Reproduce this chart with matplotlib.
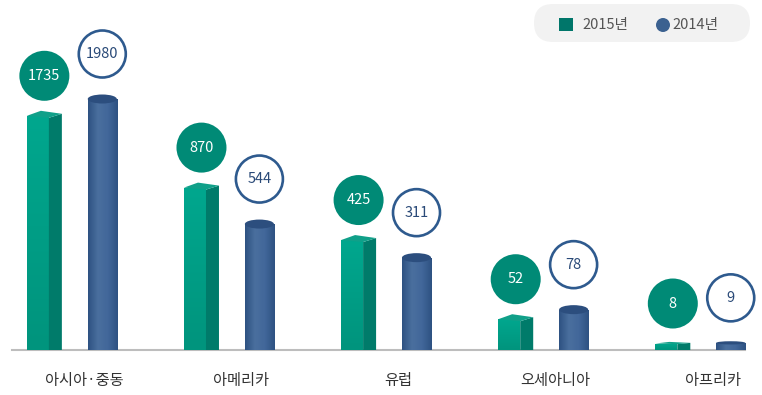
import numpy as np
import matplotlib
matplotlib.use('Agg')
import matplotlib.pyplot as plt
from matplotlib.patches import Polygon, Rectangle, Ellipse, FancyBboxPatch, Circle
from matplotlib.colors import LinearSegmentedColormap

plt.rcParams['font.family'] = ['Noto Sans CJK KR', 'DejaVu Sans']

# ---------------- data ----------------
regions = ['아시아·중동', '아메리카', '유럽', '오세아니아', '아프리카']
values_2015 = [1735, 870, 425, 52, 8]
values_2014 = [1980, 544, 311, 78, 9]
legend_labels = ['2015년', '2014년']

# ---------------- colours ----------------
GREEN_TOP = '#00A78E'
GREEN_BOT = '#00947D'
GREEN_SIDE = '#007B6A'
GREEN_LID = '#10A089'
GREEN_CIRCLE = '#008A76'
GREEN_LEG = '#00766A'
BLUE_EDGE = '#2E5282'
BLUE_MID = '#4A6F9E'
BLUE_LID = '#2C4E7E'
BLUE_RING = '#2E5A8E'
BLUE_TEXT = '#2A4A78'
BLUE_LEG = '#3B6190'

W, H = 762, 395
fig = plt.figure(figsize=(W / 100, H / 100), dpi=100)
base_px = 350
top_px = 50
ax = fig.add_axes([0, (H - base_px) / H, 1, (base_px - top_px) / H])


def fwd(v):
    v = np.clip(np.asarray(v, dtype=float), 0, None)
    return np.sqrt(v) - 2 * (1 - np.exp(-v / 4))


_grid = np.linspace(0, 20000, 200001)
_fgrid = fwd(_grid)


def inv(t):
    return np.interp(np.asarray(t, dtype=float), _fgrid, _grid)


ax.set_yscale('function', functions=(fwd, inv))
ymax = float(inv(fwd(max(values_2014)) * (base_px - top_px) / 251.0))
ax.set_ylim(0, ymax)
ax.set_xlim(-0.436, 4.414)

x = np.arange(len(regions))
off_g, wg = -0.195, 0.14
off_b, wb = 0.215, 0.185

ax.bar(x + off_g, values_2015, width=wg, color=GREEN_BOT, zorder=2)
ax.bar(x + off_b, values_2014, width=wb, color=BLUE_EDGE, zorder=2)

for s in ax.spines.values():
    s.set_visible(False)
ax.yaxis.set_visible(False)
ax.set_xticks(x + 0.1, regions)
ax.tick_params(axis='x', length=0, pad=16, labelsize=11, labelcolor='#333333')
ax.axhline(0, xmin=12 / W, xmax=745 / W, color='#BDBDBD', lw=1.5, clip_on=False, zorder=1)

# ---------------- pixel overlay for 3D decoration ----------------
pax = fig.add_axes([0, 0, 1, 1], zorder=3)
pax.patch.set_alpha(0)
pax.axis('off')


def to_px(xx, vv):
    d = ax.transData.transform((xx, vv))
    return d[0], H - d[1]


_, y0 = to_px(0, 0)
cm_green = LinearSegmentedColormap.from_list('g', [GREEN_TOP, GREEN_BOT])
cm_blue = LinearSegmentedColormap.from_list('b', [BLUE_EDGE, BLUE_MID, '#42679A', BLUE_EDGE])
vgrad = np.linspace(0, 1, 64).reshape(-1, 1)
hgrad = np.linspace(0, 1, 64).reshape(1, -1)

side_w = 13
for i, v in enumerate(values_2015):
    xl, yt = to_px(x[i] + off_g - wg / 2, v)
    xm, _ = to_px(x[i] + off_g + wg / 2, v)
    xr = xm + side_w
    hpx = y0 - yt
    rect = Rectangle((xl, yt), xm - xl, hpx, transform=pax.transData, facecolor='none', edgecolor='none')
    pax.add_patch(rect)
    im = pax.imshow(vgrad, extent=(xl, xm, y0, yt), cmap=cm_green, aspect='auto',
                    interpolation='bilinear', origin='upper', zorder=2)
    im.set_clip_path(rect)
    lift = min(1.0, hpx / 20.0)
    pax.add_patch(Polygon([(xm, y0), (xm, yt + 2 * lift), (xr, yt - 2 * lift), (xr, y0)], closed=True,
                          facecolor=GREEN_SIDE, edgecolor='none', zorder=3))
    pax.add_patch(Polygon([(xl, yt), (xm, yt + 2 * lift), (xr, yt - 2 * lift), (xl + 14, yt - 5 * lift)],
                          closed=True, facecolor=GREEN_LID, edgecolor='none', zorder=4))
    cx = (xl + xr) / 2
    cy = yt - 40
    pax.add_patch(Circle((cx, cy), 25, facecolor=GREEN_CIRCLE, edgecolor='none', zorder=5))
    pax.text(cx, cy, str(v), ha='center', va='center', color='white', fontsize=10.5, zorder=6)

for i, v in enumerate(values_2014):
    xl, yt = to_px(x[i] + off_b - wb / 2, v)
    xr, _ = to_px(x[i] + off_b + wb / 2, v)
    hpx = y0 - yt
    rect = Rectangle((xl, yt), xr - xl, hpx, transform=pax.transData, facecolor='none', edgecolor='none')
    pax.add_patch(rect)
    im = pax.imshow(hgrad, extent=(xl, xr, y0, yt), cmap=cm_blue, aspect='auto',
                    interpolation='bilinear', origin='upper', zorder=2)
    im.set_clip_path(rect)
    eh = 9 * min(1.0, hpx / 20.0)
    if eh > 0:
        pax.add_patch(Ellipse(((xl + xr) / 2, yt), xr - xl, eh, facecolor=BLUE_LID, edgecolor='none', zorder=4))
    cx = (xl + xr) / 2
    cy = yt - 45
    pax.add_patch(Circle((cx, cy), 23.5, facecolor='white', edgecolor=BLUE_RING, lw=1.9, zorder=5))
    pax.text(cx, cy, str(v), ha='center', va='center', color=BLUE_TEXT, fontsize=10.5, zorder=6)

# ---------------- legend ----------------
pax.add_patch(FancyBboxPatch((534, 4), 216, 38, boxstyle='round,pad=0,rounding_size=19',
                             facecolor='#F2F2F2', edgecolor='none', zorder=1))
pax.add_patch(Rectangle((559, 18), 14, 13, facecolor=GREEN_LEG, edgecolor='none', zorder=2))
pax.text(582, 24.5, legend_labels[0], ha='left', va='center', color='#555555', fontsize=10.5, zorder=2)
pax.add_patch(Circle((663, 25), 7, facecolor=BLUE_LEG, edgecolor='none', zorder=2))
pax.text(672, 24.5, legend_labels[1], ha='left', va='center', color='#555555', fontsize=10.5, zorder=2)

pax.set_xlim(0, W)
pax.set_ylim(H, 0)

fig.savefig('out.png', dpi=100, facecolor='white')
